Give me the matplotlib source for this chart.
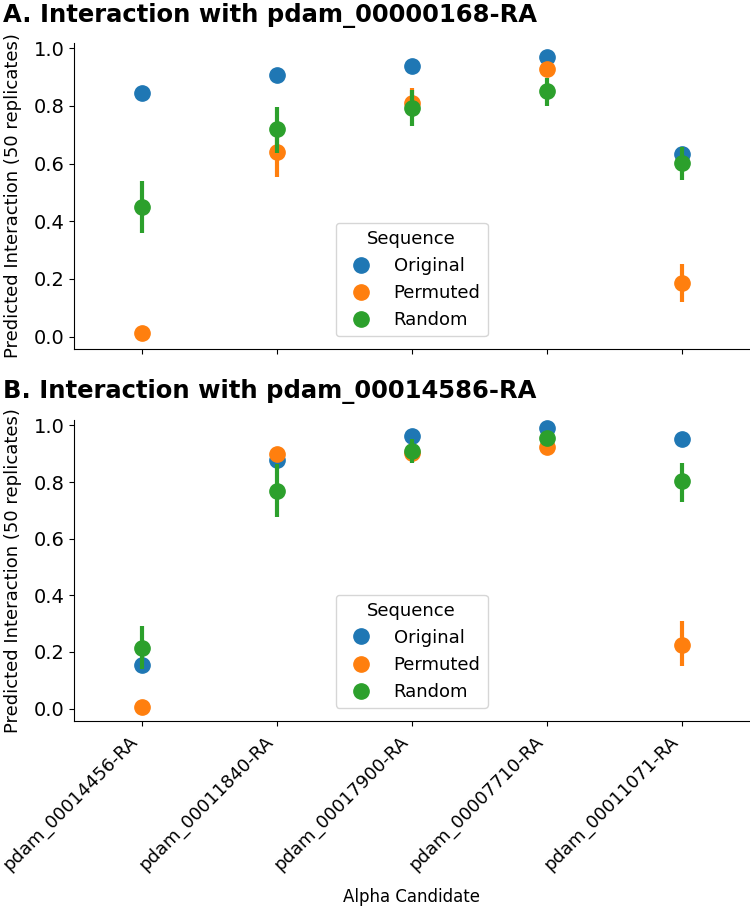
import matplotlib
matplotlib.use('Agg')
import matplotlib.pyplot as plt
from matplotlib.lines import Line2D
import numpy as np

# ── DATA ────────────────────────────────────────────
candidates = ["pdam_00014456-RA", "pdam_00011840-RA", "pdam_00017900-RA",
              "pdam_00007710-RA", "pdam_00011071-RA"]
sequences = ["Original", "Permuted", "Random"]
colors = ["#1f77b4", "#ff7f0e", "#2ca02c"]

# panel A : interaction with pdam_00000168-RA
a_orig = [0.846, 0.907, 0.939, 0.969, 0.632]
a_perm = [0.012, 0.640, 0.809, 0.927, 0.185]
a_perm_lo = [0.008, 0.553, 0.760, 0.910, 0.121]
a_perm_hi = [0.016, 0.720, 0.861, 0.945, 0.252]
a_rand = [0.451, 0.719, 0.792, 0.852, 0.601]
a_rand_lo = [0.358, 0.638, 0.731, 0.801, 0.543]
a_rand_hi = [0.540, 0.795, 0.855, 0.896, 0.659]

# panel B : interaction with pdam_00014586-RA
b_orig = [0.155, 0.878, 0.963, 0.992, 0.951]
b_perm = [0.005, 0.899, 0.902, 0.923, 0.226]
b_perm_lo = [0.002, 0.880, 0.870, 0.910, 0.149]
b_perm_hi = [0.008, 0.915, 0.930, 0.936, 0.308]
b_rand = [0.214, 0.767, 0.911, 0.955, 0.802]
b_rand_lo = [0.138, 0.678, 0.867, 0.930, 0.731]
b_rand_hi = [0.290, 0.865, 0.951, 0.975, 0.867]

panels = [
    ("A. Interaction with pdam_00000168-RA",
     [(a_orig, a_orig, a_orig), (a_perm, a_perm_lo, a_perm_hi), (a_rand, a_rand_lo, a_rand_hi)]),
    ("B. Interaction with pdam_00014586-RA",
     [(b_orig, b_orig, b_orig), (b_perm, b_perm_lo, b_perm_hi), (b_rand, b_rand_lo, b_rand_hi)]),
]

# ── FIGURE ──────────────────────────────────────────
fig = plt.figure(figsize=(7.5, 9.06), dpi=100)
ax_pos = [[0.0989, 0.6148, 0.9, 0.3381], [0.0989, 0.2045, 0.9, 0.3319]]
title_y = [1 - 21.7 / 906, 1 - 398.3 / 906]
x = np.arange(len(candidates))

for k, (title, series) in enumerate(panels):
    ax = fig.add_axes(ax_pos[k])
    # error bar first, then the point, one sequence after the other
    for (mean, lo, hi), col in zip(series, colors):
        ax.vlines(x, lo, hi, color=col, linewidth=3)
        ax.plot(x, mean, 'o', color=col, markersize=11, linestyle='none')

    ax.set_xlim(-0.5, len(candidates) - 0.5)
    ax.set_ylim(-0.043, 1.019)
    ax.set_yticks([0.0, 0.2, 0.4, 0.6, 0.8, 1.0])
    ax.tick_params(axis='y', labelsize=14)
    ax.tick_params(axis='x', labelsize=13, pad=5)
    ax.set_xticks(x)
    ax.spines['top'].set_visible(False)
    ax.spines['right'].set_visible(False)
    ax.set_ylabel("Predicted Interaction (50 replicates)", fontsize=13, labelpad=8.5)

    if k == 0:
        ax.set_xticklabels([])
    else:
        ax.set_xticklabels(candidates, rotation=45, ha='right')
        ax.set_xlabel("Alpha Candidate", fontsize=12, labelpad=10)

    handles = [Line2D([], [], marker='o', linestyle='none', color=c, markersize=11)
               for c in colors]
    ax.legend(handles, sequences, title="Sequence", loc='lower center',
              fontsize=13, title_fontsize=13, labelspacing=0.5, borderaxespad=0.7)

    fig.text(3 / 750, title_y[k], title, fontsize=17.5, fontweight='bold',
             va='baseline', ha='left')

fig.savefig('out.png', dpi=100)
